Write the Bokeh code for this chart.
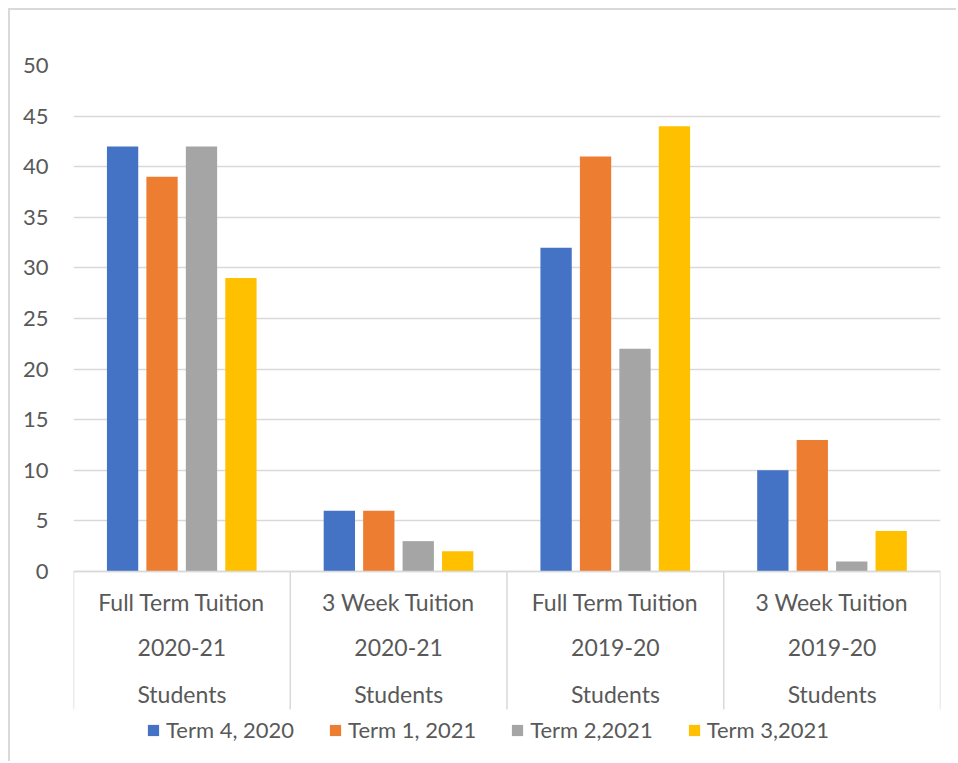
from math import pi
from bokeh.plotting import figure
from bokeh.models import Range1d, FixedTicker, Legend, LegendItem, ColumnDataSource, Span
from bokeh.transform import dodge
from bokeh.core.properties import value
from bokeh.embed import file_html
from bokeh.resources import INLINE

# ---- data ----
label_line1 = ["Full Term Tuition", "3 Week Tuition", "Full Term Tuition", "3 Week Tuition"]
label_line2 = ["2020-21", "2020-21", "2019-20", "2019-20"]
label_line3 = ["Students", "Students", "Students", "Students"]
series_names = ["Term 4, 2020", "Term 1, 2021", "Term 2,2021", "Term 3,2021"]
term4_2020 = [42, 6, 32, 10]
term1_2021 = [39, 6, 41, 13]
term2_2021 = [42, 3, 22, 1]
term3_2021 = [29, 2, 44, 4]
y_ticks = [0, 5, 10, 15, 20, 25, 30, 35, 40, 45, 50]

colors = ["#4472C4", "#ED7D31", "#A5A5A5", "#FFC000"]
FONT = "Lato"
FSIZE = "23px"
TXT = "#595959"
GRID = "#d9d9d9"

n = len(label_line1)
centers = [i + 0.5 for i in range(n)]
bounds = list(range(n + 1))

src = ColumnDataSource(dict(x=centers, s0=term4_2020, s1=term1_2021, s2=term2_2021, s3=term3_2021))

# value axis 0..50 spans 506px; the frame continues 192px below zero for the
# category labels and the legend
Y_MAX = 50
below_units = 192 / (506 / Y_MAX)

p = figure(width=948, height=753, x_range=Range1d(0, n), y_range=Range1d(-below_units, Y_MAX),
           output_backend="svg", toolbar_location=None, x_axis_location=None,
           min_border_left=63, min_border_top=55, min_border_right=18, min_border_bottom=0)
p.styles = {"margin-left": "8px", "margin-top": "8px",
            "border-left": "2px solid #d9d9d9", "border-top": "2px solid #d9d9d9"}
p.outline_line_color = None
p.background_fill_color = "white"
p.border_fill_color = "white"

# grid + y axis
yax = p.yaxis[0]
yax.ticker = FixedTicker(ticks=y_ticks)
yax.axis_line_color = None
yax.major_tick_line_color = None
yax.minor_tick_line_color = None
yax.major_label_text_font = FONT
yax.major_label_text_font_size = "22px"
yax.major_label_text_color = TXT
yax.major_label_standoff = 19

p.xgrid.visible = False
p.ygrid.grid_line_color = GRID
p.ygrid.grid_line_width = 1.5
p.ygrid.ticker = FixedTicker(ticks=y_ticks)

# bars
offsets = [-0.2735, -0.0915, 0.0905, 0.2725]
renderers = []
for k, (col, off) in enumerate(zip(["s0", "s1", "s2", "s3"], offsets)):
    r = p.vbar(x=dodge("x", off, range=p.x_range), top=col, width=0.1444, bottom=0,
               source=src, fill_color=colors[k], line_color=None)
    renderers.append(r)

# category axis line and separators
p.add_layout(Span(location=0, dimension="width", line_color=GRID, line_width=1.5))
p.ray(x=bounds, y=[0] * len(bounds), length=138, length_units="screen", angle=-pi / 2,
      line_color=GRID, line_width=1.5)

# category labels (three lines)
for labels, off in zip([label_line1, label_line2, label_line3], [30, 76, 122]):
    p.text(x=centers, y=[0] * n, text=labels, y_offset=off,
           text_align="center", text_baseline="middle",
           text_font=value(FONT), text_font_size=value(FSIZE), text_color=TXT)

legend = Legend(items=[LegendItem(label=nm, renderers=[r]) for nm, r in zip(series_names, renderers)],
                orientation="horizontal", location=(73, 20))
legend.label_text_font = FONT
legend.label_text_font_size = "22px"
legend.label_text_color = TXT
legend.glyph_width = 14
legend.glyph_height = 14
legend.label_standoff = 6
legend.spacing = 34
legend.border_line_color = None
legend.background_fill_alpha = 0
legend.padding = 0
legend.margin = 0
p.add_layout(legend, "center")

open("out.html", "w").write(file_html(p, INLINE))
